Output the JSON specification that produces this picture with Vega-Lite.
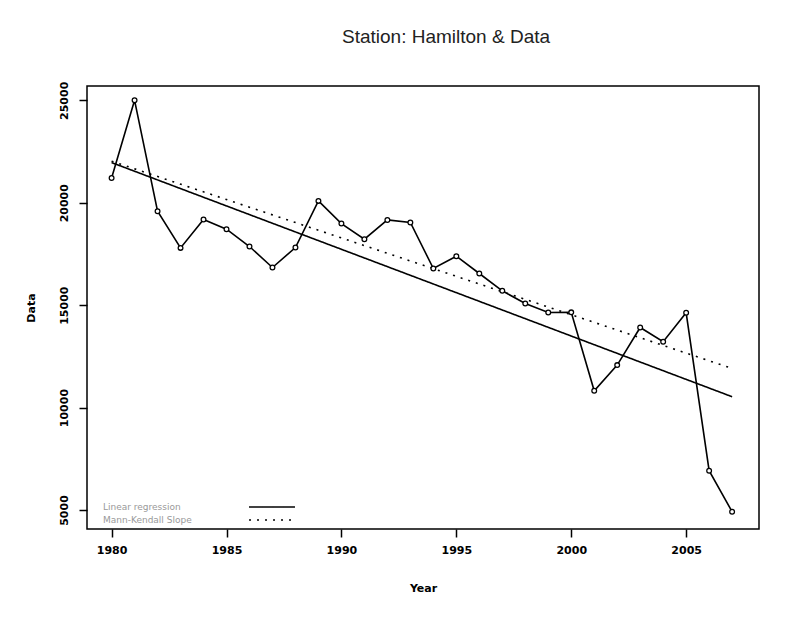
{
  "$schema": "https://vega.github.io/schema/vega-lite/v6.json",
  "autosize": {"type": "none"},
  "width": 672,
  "height": 443,
  "padding": {"left": 87, "top": 86, "right": 38, "bottom": 92},
  "background": "white",
  "title": {
    "text": "Station: Hamilton & Data",
    "font": "Liberation Sans",
    "fontSize": 19,
    "fontWeight": "normal",
    "color": "#222222",
    "anchor": "start",
    "dx": 317,
    "baseline": "alphabetic",
    "offset": 19
  },
  "config": {
    "view": {"stroke": "black", "strokeWidth": 1.5},
    "axis": {
      "grid": false,
      "domain": false,
      "tickColor": "black",
      "tickSize": 8,
      "tickWidth": 1.5,
      "labelFont": "DejaVu Sans",
      "labelFontWeight": "bold",
      "labelFontSize": 11,
      "labelColor": "black",
      "titleFont": "DejaVu Sans",
      "titleFontWeight": "bold",
      "titleFontSize": 11,
      "titleColor": "black"
    }
  },
  "datasets": {
    "series": [
      {"year": 1980, "value": 21210},
      {"year": 1981, "value": 25000},
      {"year": 1982, "value": 19585},
      {"year": 1983, "value": 17795},
      {"year": 1984, "value": 19180},
      {"year": 1985, "value": 18707},
      {"year": 1986, "value": 17862},
      {"year": 1987, "value": 16838},
      {"year": 1988, "value": 17815},
      {"year": 1989, "value": 20088},
      {"year": 1990, "value": 18984},
      {"year": 1991, "value": 18220},
      {"year": 1992, "value": 19160},
      {"year": 1993, "value": 19034},
      {"year": 1994, "value": 16790},
      {"year": 1995, "value": 17390},
      {"year": 1996, "value": 16545},
      {"year": 1997, "value": 15700},
      {"year": 1998, "value": 15080},
      {"year": 1999, "value": 14642},
      {"year": 2000, "value": 14650},
      {"year": 2001, "value": 10820},
      {"year": 2002, "value": 12073},
      {"year": 2003, "value": 13911},
      {"year": 2004, "value": 13215},
      {"year": 2005, "value": 14626},
      {"year": 2006, "value": 6917},
      {"year": 2007, "value": 4917}
    ],
    "fits": [
      {"year": 1980, "value": 21960, "method": "Linear regression"},
      {"year": 2007, "value": 10530, "method": "Linear regression"},
      {"year": 1980, "value": 22030, "method": "Mann-Kendall Slope"},
      {"year": 2007, "value": 11910, "method": "Mann-Kendall Slope"}
    ]
  },
  "layer": [
    {
      "data": {"name": "fits"},
      "mark": {"type": "line", "color": "black", "strokeWidth": 1.6},
      "encoding": {
        "x": {"field": "year", "type": "quantitative"},
        "y": {"field": "value", "type": "quantitative"},
        "detail": {"field": "method"},
        "strokeDash": {
          "field": "method",
          "type": "nominal",
          "scale": {
            "domain": ["Linear regression", "Mann-Kendall Slope"],
            "range": [[1, 0], [2, 6]]
          },
          "legend": {
            "title": null,
            "orient": "none",
            "legendX": 178,
            "legendY": 414,
            "symbolType": "M-4,0H4",
            "symbolSize": 132,
            "symbolStrokeWidth": 1.6,
            "symbolStrokeColor": "black",
            "labelAlign": "left",
            "labelOffset": -176,
            "labelFont": "DejaVu Sans",
            "labelFontSize": 9,
            "labelColor": "#999999",
            "rowPadding": 1,
            "padding": 0
          }
        }
      }
    },
    {
      "data": {"name": "series"},
      "mark": {
        "type": "line",
        "color": "black",
        "strokeWidth": 1.6,
        "point": {"filled": false, "fill": "white", "stroke": "black", "strokeWidth": 1.3, "size": 22}
      },
      "encoding": {
        "x": {
          "field": "year",
          "type": "quantitative",
          "title": "Year",
          "scale": {"domain": [1978.93, 2008.17], "nice": false, "zero": false},
          "axis": {"values": [1980, 1985, 1990, 1995, 2000, 2005], "format": "d", "labelPadding": 7, "titlePadding": 27}
        },
        "y": {
          "field": "value",
          "type": "quantitative",
          "title": "Data",
          "scale": {"domain": [4073, 25698], "nice": false, "zero": false},
          "axis": {
            "values": [5000, 10000, 15000, 20000, 25000],
            "format": "d",
            "labelAngle": -90,
            "labelAlign": "center",
            "labelBaseline": "bottom",
            "labelPadding": 10,
            "titlePadding": 22
          }
        }
      }
    }
  ]
}
